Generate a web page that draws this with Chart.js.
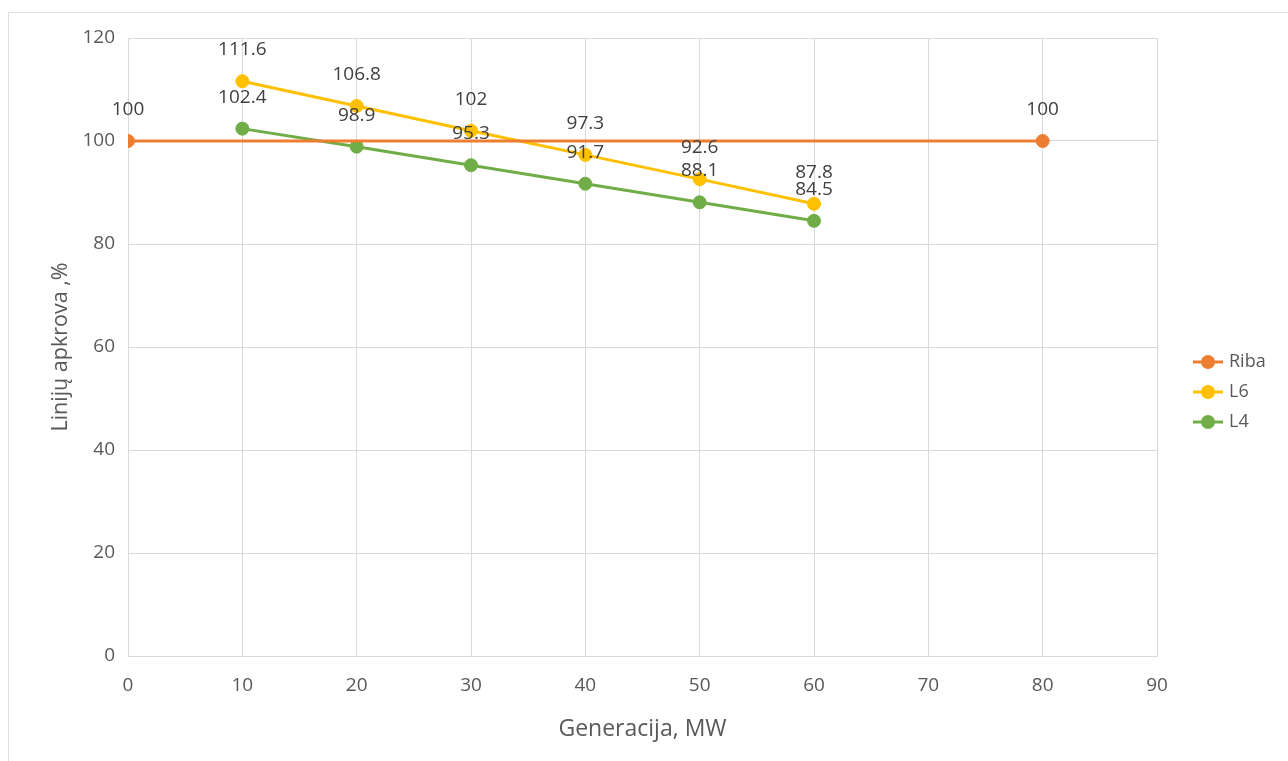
<!DOCTYPE html>
<html>
<head>
<meta charset="utf-8">
<script src="https://cdn.jsdelivr.net/npm/chart.js@4.4.1/dist/chart.umd.min.js"></script>
<style>
  html, body { margin: 0; padding: 0; background: #ffffff; }
  #wrap { position: relative; width: 1288px; height: 761px; overflow: hidden; }
  #frame { position: absolute; left: 8px; top: 12px; right: -4px; bottom: -4px; border: 1px solid #e0e0e0; }
  #c { position: absolute; left: 0; top: 0; }
</style>
</head>
<body>
<div id="wrap">
  <div id="frame"></div>
  <canvas id="c" width="1288" height="761"></canvas>
</div>
<script>
// Series names and values
const seriesNames = ['Riba', 'L6', 'L4'];
const ribaX = [0, 80];
const ribaY = [100, 100];
const l6X = [10, 20, 30, 40, 50, 60];
const l6Y = [111.6, 106.8, 102, 97.3, 92.6, 87.8];
const l4X = [10, 20, 30, 40, 50, 60];
const l4Y = [102.4, 98.9, 95.3, 91.7, 88.1, 84.5];

// Axis ticks and titles
const xTicks = [0, 10, 20, 30, 40, 50, 60, 70, 80, 90];
const yTicks = [0, 20, 40, 60, 80, 100, 120];
const xTitle = 'Generacija, MW';
const yTitle = 'Linijų apkrova ,%';

const colors = ['#ED7D31', '#FFC000', '#70AD47'];
const FONT = '"Open Sans", "Noto Sans", sans-serif';
const TEXT = '#595959';

function pairs(xs, ys) { return xs.map((x, i) => ({ x: x, y: ys[i] })); }

// Legend swatch: short line with a round marker
function swatch(color) {
  const c = document.createElement('canvas');
  c.width = 32; c.height = 16;
  const g = c.getContext('2d');
  g.strokeStyle = color; g.lineWidth = 3;
  g.beginPath(); g.moveTo(1, 8); g.lineTo(31, 8); g.stroke();
  g.fillStyle = color;
  g.beginPath(); g.arc(16, 8, 7, 0, Math.PI * 2); g.fill();
  return c;
}
const swatches = colors.map(swatch);

// Value labels written above each marker
const valueLabels = {
  id: 'valueLabels',
  afterDatasetsDraw(chart) {
    const ctx = chart.ctx;
    ctx.save();
    ctx.font = '19px ' + FONT;
    ctx.fillStyle = '#404040';
    ctx.textAlign = 'center';
    ctx.textBaseline = 'alphabetic';
    chart.data.datasets.forEach((ds, i) => {
      const meta = chart.getDatasetMeta(i);
      meta.data.forEach((pt, j) => {
        ctx.fillText(String(ds.data[j].y), pt.x, pt.y - 26);
      });
    });
    ctx.restore();
  }
};

// Place the legend to the right of the plot, vertically centred on the frame
const legendPlacer = {
  id: 'legendPlacer',
  afterLayout(chart) {
    const lg = chart.legend;
    if (!lg) return;
    lg.left = 1184; lg.right = 1288;
    lg.top = 341; lg.bottom = 761;
    lg.width = lg.right - lg.left;
    lg.height = lg.bottom - lg.top;
  }
};

function draw() {
  const datasets = [
    { label: seriesNames[0], data: pairs(ribaX, ribaY) },
    { label: seriesNames[1], data: pairs(l6X, l6Y) },
    { label: seriesNames[2], data: pairs(l4X, l4Y) }
  ].map((d, i) => Object.assign(d, {
    showLine: true,
    borderColor: colors[i],
    backgroundColor: colors[i],
    borderWidth: 3,
    pointRadius: 6.5,
    pointBorderWidth: 1,
    pointBorderColor: colors[i],
    pointBackgroundColor: colors[i],
    pointHoverRadius: 6.5
  }));

  new Chart(document.getElementById('c'), {
    type: 'scatter',
    data: { datasets: datasets },
    options: {
      responsive: false,
      animation: false,
      devicePixelRatio: 1,
      layout: { padding: { left: 0, top: 38, right: 131, bottom: 0 } },
      plugins: {
        tooltip: { enabled: false },
        legend: {
          display: true,
          position: 'chartArea',
          align: 'start',
          labels: {
            usePointStyle: true,
            pointStyleWidth: 24,
            padding: 12,
            color: TEXT,
            font: { family: FONT, size: 18 },
            generateLabels(chart) {
              return Chart.defaults.plugins.legend.labels.generateLabels(chart)
                .map((it, i) => Object.assign(it, { pointStyle: swatches[i] }));
            }
          }
        }
      },
      scales: {
        x: {
          type: 'linear',
          min: xTicks[0],
          max: xTicks[xTicks.length - 1],
          afterBuildTicks(scale) { scale.ticks = xTicks.map(v => ({ value: v })); },
          afterFit(scale) { scale.height = 105; },
          grid: { color: '#d9d9d9', lineWidth: 1, drawTicks: false },
          border: { color: '#d9d9d9', width: 1 },
          ticks: { padding: 18, color: TEXT, font: { family: FONT, size: 19 } },
          title: { display: true, text: xTitle, color: TEXT, font: { family: FONT, size: 23 }, padding: { top: 0, bottom: 18 } }
        },
        y: {
          type: 'linear',
          min: yTicks[0],
          max: yTicks[yTicks.length - 1],
          afterBuildTicks(scale) { scale.ticks = yTicks.map(v => ({ value: v })); },
          afterFit(scale) { scale.width = 128; },
          grid: { color: '#d9d9d9', lineWidth: 1, drawTicks: false },
          border: { color: '#d9d9d9', width: 1 },
          ticks: { padding: 13, color: TEXT, font: { family: FONT, size: 19 } },
          title: { display: true, text: yTitle, color: TEXT, font: { family: FONT, size: 21.5 }, padding: { top: 48, bottom: 0 } }
        }
      }
    },
    plugins: [valueLabels, legendPlacer]
  });
}

Promise.all([
  document.fonts.load('18px "Open Sans"'),
  document.fonts.load('23px "Open Sans"')
]).then(draw, draw);
</script>
</body>
</html>
